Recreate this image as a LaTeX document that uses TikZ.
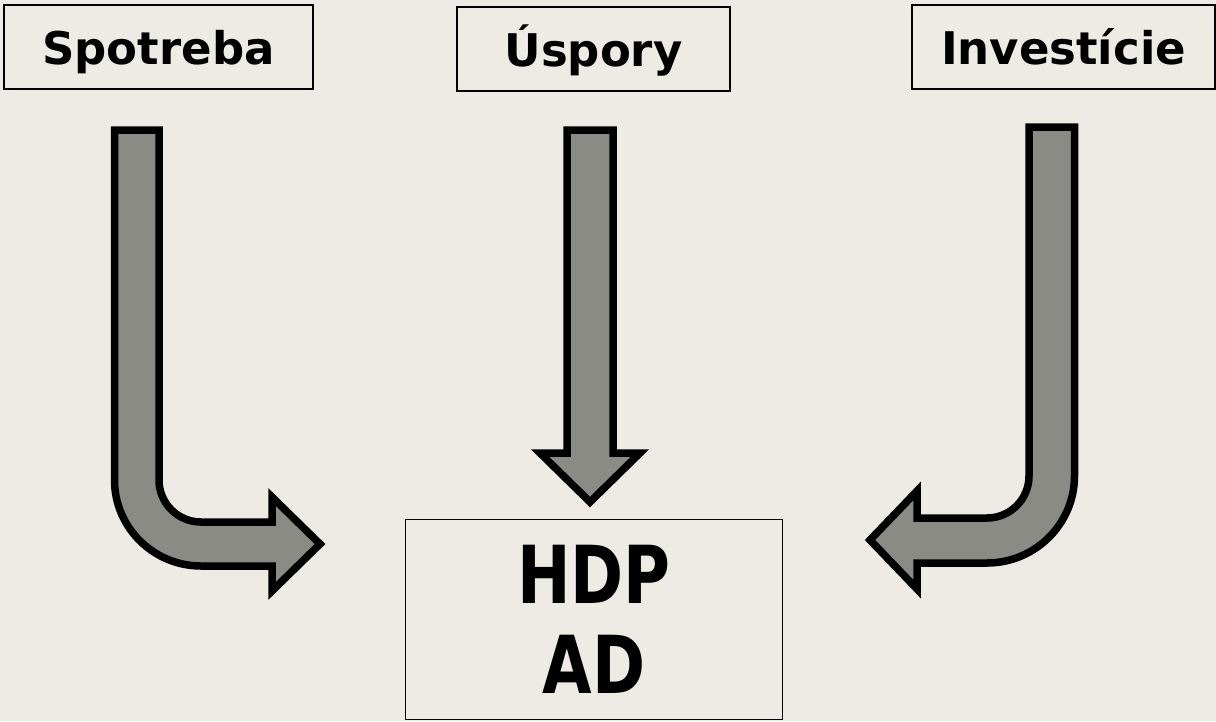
\documentclass[tikz,border=0pt]{standalone}
\usepackage{graphicx}
\usepackage{fontspec}
\setmainfont{DejaVu Sans}
\definecolor{bgc}{HTML}{EEEBE4}
\definecolor{arrowfill}{HTML}{8A8B84}
\newcommand{\narrowtxt}[1]{\scalebox{0.8}[1]{#1}}
\begin{document}
\begin{tikzpicture}[x=1pt,y=-1pt,
  labelbox/.style={draw=black, line width=1.5pt, inner sep=0pt, text height=35pt, text depth=0pt,
    font=\fontsize{45}{50}\selectfont\bfseries},
  bigbox/.style={draw=black, line width=1.5pt, inner sep=0pt, align=center,
    font=\fontsize{80}{90}\selectfont\bfseries},
  blockarrow/.style={draw=black, fill=arrowfill, line width=7.5pt, line join=miter, miter limit=10}]
\fill[bgc] (0,0) rectangle (1216,721);
\useasboundingbox (0,0) rectangle (1216,721);
% label boxes
\node[labelbox, minimum width=309pt, minimum height=84pt] (sp) at (158.5,47) {Spotreba};
\node[labelbox, minimum width=273pt, minimum height=84pt] (us) at (593.5,49) {Úspory};
\node[labelbox, minimum width=303pt, minimum height=84pt] (inv) at (1063.5,47) {Investície};
\node[bigbox, minimum width=377pt, minimum height=200pt] (hdp) at (594,619.5) {\narrowtxt{HDP}\\\narrowtxt{AD}};
% left bent arrow
\draw[blockarrow] (114.5,130) -- (159,130) -- (159,480)
  .. controls (159,503.2) and (177.8,522) .. (201,522)
  -- (272,522) -- (272,497) -- (320,544) -- (272,591) -- (272,566) -- (201,566)
  .. controls (153.5,566) and (114.5,527.5) .. (114.5,480) -- cycle;
% middle straight arrow
\draw[blockarrow] (567,130) -- (613,130) -- (613,453) -- (640,453) -- (590,502)
  -- (540,453) -- (567,453) -- cycle;
% right bent arrow
\draw[blockarrow] (1029,127) -- (1074.5,127) -- (1074.5,476)
  .. controls (1074.5,524) and (1035,563) .. (987,563)
  -- (917,563) -- (917,589) -- (870,540) -- (917,491) -- (917,518) -- (987,518)
  .. controls (1010.2,518) and (1029,499.2) .. (1029,476) -- cycle;
\end{tikzpicture}
\end{document}
